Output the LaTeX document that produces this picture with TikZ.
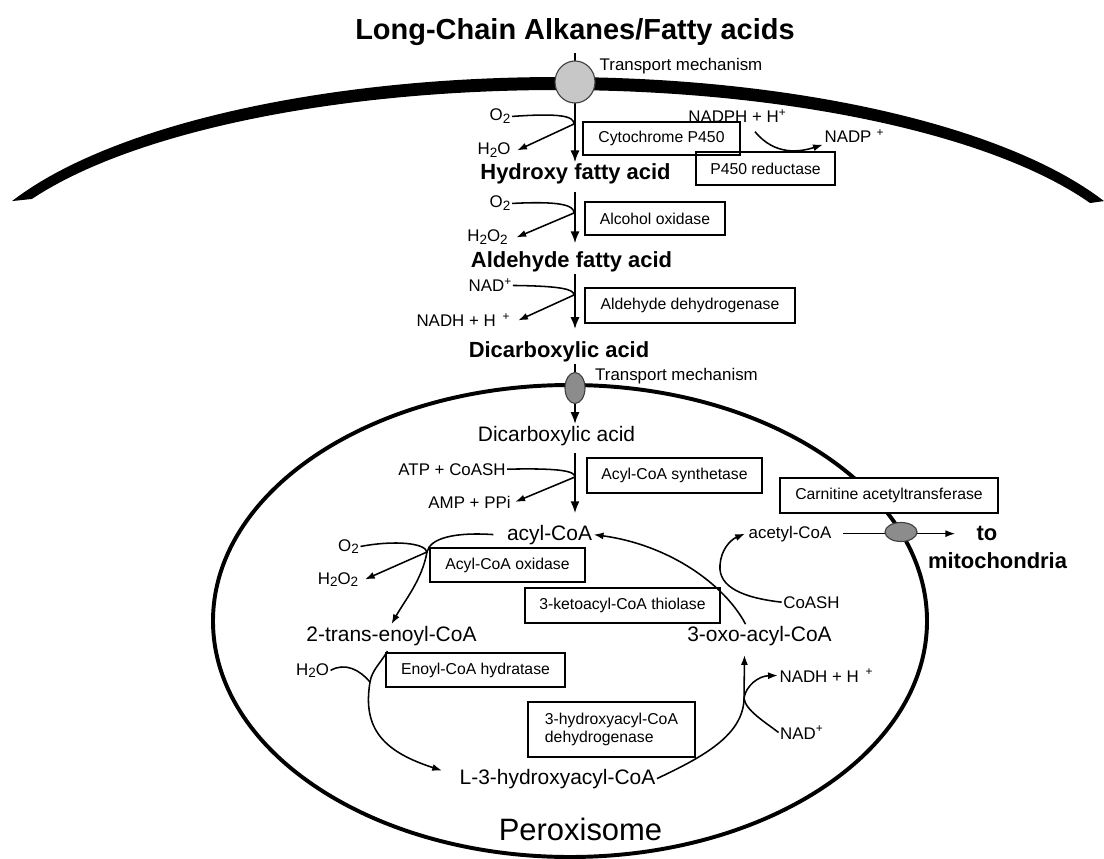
\documentclass[tikz,border=0pt]{standalone}
\usepackage{fontspec}
\usepackage{graphicx}
\setmainfont{Liberation Sans}
\usetikzlibrary{arrows.meta,calc,shapes.geometric}
\pgfdeclarelayer{bg}
\pgfsetlayers{bg,main}
% chemical indices
\newcommand\lowidx[1]{\raisebox{-0.3ex}{\scalebox{0.8}{#1}}}
\newcommand\hiidx[1]{\raisebox{0.7ex}{\scalebox{0.7}{#1}}}

\begin{document}
\begin{tikzpicture}[x=0.025cm, y=-0.025cm,
  lab/.style={inner sep=1pt, anchor=base, font=\fontsize{12}{14}\selectfont},
  prod/.style={inner sep=1pt, anchor=base, font=\fontsize{14.9}{17}\selectfont},
  mid/.style={inner sep=1pt, anchor=base, font=\bfseries\fontsize{15.6}{18}\selectfont},
  titletext/.style={inner sep=1pt, anchor=base, font=\bfseries\fontsize{20.6}{24}\selectfont},
  mito/.style={inner sep=1pt, anchor=base, font=\bfseries\fontsize{15.6}{18}\selectfont},
  organelle/.style={inner sep=1pt, anchor=base, font=\fontsize{22}{26}\selectfont},
  enz/.style 2 args={draw, line width=1.3pt, inner sep=0pt,
    minimum width=#1*0.025cm, minimum height=#2*0.025cm,
    font=\fontsize{11.2}{13.4}\selectfont},
  main/.style={line width=1.5pt, -{Latex[length=8.5pt,width=6.5pt]}},
  side/.style={line width=1.1pt, -{Latex[length=7pt,width=5pt]}},
  pore/.style={ellipse, draw=black!75, line width=0.8pt, inner sep=0pt}]

\useasboundingbox (0,0) rectangle (1104,859);
\coordinate (spine) at (575,0);

% ---------- text and enzyme boxes ----------
\node[titletext] (src) at (575,40) {Long-Chain Alkanes/Fatty acids};
\node[lab] (tm1) at (681,71) {Transport mechanism};

\node[lab] (o2a) at (500,121) {O\lowidx{2}};
\node[lab] (h2oa) at (494,155) {H\lowidx{2}O};
\node[enz={157}{33}] (cyp) at (661.5,138.5) {Cytochrome P450};
\node[lab] (nadph) at (737,123) {NADPH + H\hiidx{+}};
\node[enz={139}{33}] (red) at (765.5,168.5) {P450 reductase};
\node[lab] (nadp) at (854,143) {NADP\hspace{0.3em}\hiidx{+}};
\node[mid] (hfa) at (575.5,180) {Hydroxy fatty acid};

\node[lab] (o2b) at (500,208) {O\lowidx{2}};
\node[lab] (h2o2a) at (487.5,242) {H\lowidx{2}O\lowidx{2}};
\node[enz={140}{33}] (aox) at (655,218.5) {Alcohol oxidase};
\node[mid] (afa) at (571.5,268) {Aldehyde fatty acid};

\node[lab] (nad1) at (490,292) {NAD\hiidx{+}};
\node[lab] (nadh1) at (463,327) {NADH + H\hspace{0.4em}\hiidx{+}};
\node[enz={210}{35}] (aldh) at (690,305.5) {Aldehyde dehydrogenase};
\node[mid] (dca1) at (559,358) {Dicarboxylic acid};

\node[lab] (tm2) at (676.5,381) {Transport mechanism};
\node[prod] (dca2) at (556.5,441) {Dicarboxylic acid};
\node[lab] (atp) at (452,475) {ATP + CoASH};
\node[lab] (amp) at (469.5,508) {AMP + PPi};
\node[enz={175}{35}] (acs) at (674.5,475.5) {Acyl-CoA synthetase};
\node[prod] (acyl) at (549.5,540) {acyl-CoA};

\node[lab] (o2c) at (348.5,551) {O\lowidx{2}};
\node[lab] (h2o2b) at (338,584) {H\lowidx{2}O\lowidx{2}};
\node[enz={155}{34}] (acox) at (507.5,565) {Acyl-CoA oxidase};

\node[enz={218}{35}, fill=white] (cat) at (889,495.5) {Carnitine acetyltransferase};
\node[lab] (acetyl) at (790,538) {acetyl-CoA};
\node[mito] (to) at (987,540) {to};
\node[mito] (mito) at (997.5,568) {mitochondria};

\node[enz={195}{35}] (kat) at (622.5,605.5) {3-ketoacyl-CoA thiolase};
\node[lab] (coash) at (811.5,608) {CoASH};
\node[prod] (enoyl) at (391.5,641) {2-trans-enoyl-CoA};
\node[prod] (oxo) at (759.5,641) {3-oxo-acyl-CoA};

\node[lab] (h2oc) at (312.5,675) {H\lowidx{2}O};
\node[enz={179}{34}] (ech) at (475.5,670) {Enoyl-CoA hydratase};
\node[lab] (nadh2) at (826,682) {NADH + H\hspace{0.4em}\hiidx{+}};
\node[enz={167}{55}, align=left] (hadh) at (611.5,729.5) {3-hydroxyacyl-CoA\\dehydrogenase};
\node[lab] (nad2) at (801.5,739) {NAD\hiidx{+}};
\node[prod] (lhac) at (557.5,784) {L-3-hydroxyacyl-CoA};
\node[organelle] (perox) at (580.5,840) {Peroxisome};

% ---------- membranes and connectors, underneath ----------
\begin{pgfonlayer}{bg}
  \fill[white] (0,0) rectangle (1104,859);
  % cell membrane: thick band between two elliptic arcs
  \fill[black] plot[domain=155.5:24.5, samples=90] ({558+600*cos(\x)},{289-212*sin(\x)})
    -- plot[domain=25.6:153.1, samples=90] ({558+590*cos(\x)},{289-199*sin(\x)}) -- cycle;
  % peroxisome membrane
  \draw[line width=2.8pt] (570,621) ellipse [x radius=357, y radius=236];

  % main route
  \draw[main, shorten <=4pt] (src.south -| spine) -- (hfa.north -| spine);
  \draw[main, shorten <=4pt, shorten >=5pt] (hfa.south -| spine) -- (afa.north -| spine);
  \draw[main, shorten >=8pt] (afa.south -| spine) -- (dca1.north -| spine);
  \draw[main] (dca1.south -| spine) -- (dca2.north -| spine);
  \draw[main, shorten <=4pt, shorten >=7pt] (dca2.south -| spine) -- (acyl.north -| spine);

  % co-substrates of the oxidation steps
  \draw[side] (o2a.east) .. controls (560,113) and (574,116) .. (574,124) -- ($(h2oa.east)+(5,0)$);
  \draw[side] ($(nadph.south)+(18,7)$) .. controls (775,156) and (800,152) .. (nadp.south west);
  \draw[side] (o2b.east) .. controls (560,201) and (574,205) .. (574,213) -- ($(h2o2a.east)+(7,0)$);
  \draw[side] (nad1.east) .. controls (560,286) and (574,289) .. (574,295) -- ($(nadh1.east)+(7,0)$);
  \draw[side] (atp.east) .. controls (560,468) and (575,471) .. (575,477) -- ($(amp.east)+(3,0)$);

  % beta-oxidation cycle
  \draw[side] ($(acyl.west)+(-12,0)$) .. controls (455,532) and (430,538) .. (427,552)
    .. controls (422,580) and (405,600) .. (enoyl.north);
  \draw[side] (o2c.east) .. controls (395,540) and (425,543) .. (427,552) -- ($(h2o2b.east)+(5,0)$);
  \draw[side] ($(enoyl.south)+(-4,4)$) .. controls (380,664) and (372,670) .. (370,682)
    .. controls (362,730) and (385,752) .. ($(lhac.west)+(-16,-8)$);
  \draw[line width=1.1pt] (h2oc.east) .. controls (345,662) and (360,670) .. (370,682);
  \draw[side] (lhac.east) .. controls (705,756) and (742,735) .. (744,700) -- ($(oxo.south)+(-15,8)$);
  \draw[side] (nad2.west) .. controls (765,722) and (745,710) .. (744,698)
    .. controls (746,686) and (758,676) .. (nadh2.west);
  \draw[side] ($(oxo.north)+(-14,0)$) .. controls (725,585) and (670,545) .. (acyl.east);
  \draw[side] (coash.west) .. controls (745,598) and (718,588) .. (720,565)
    .. controls (721,550) and (730,540) .. ($(acetyl.west)+(-2,0)$);
  \draw[side, shorten <=7pt, shorten >=14pt] (acetyl.east) -- (acetyl.east -| to.west);
\end{pgfonlayer}

% ---------- transport proteins ----------
\node[pore, fill=black!22, minimum width=40*0.025cm, minimum height=42*0.025cm] (p1) at (575,82) {};
\node[pore, fill=black!45, minimum width=20*0.025cm, minimum height=31*0.025cm] (p2) at (575,388) {};
\node[pore, fill=black!45, minimum width=32*0.025cm, minimum height=19*0.025cm] (p3) at (901,532) {};
\end{tikzpicture}
\end{document}
